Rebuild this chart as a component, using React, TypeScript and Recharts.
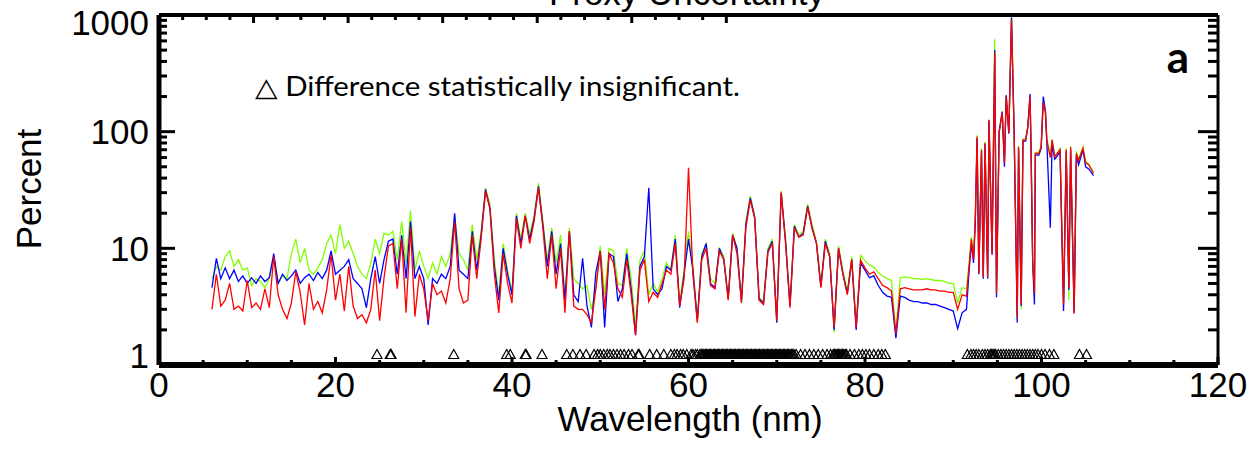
import { ComposedChart, Line, Scatter, XAxis, YAxis } from "recharts";

// plot frame in page pixels
const PLOT = { left: 159, right: 1218, top: 15, bottom: 365 };
const AXIS_FONT = "'Liberation Sans', Arial, sans-serif";

// wavelength grid: 0.5 nm steps up to 91 nm, then the spiky tail read point by point
const GRID_WL = Array.from({ length: 171 }, (_, i) => 6 + i * 0.5);
const FINE_WL = [
  91.5, 91.8, 92.05, 92.3, 92.5, 92.7, 92.9, 93.2, 93.4, 93.6,
  93.9, 94.05, 94.4, 94.7, 94.9, 95.2, 95.55, 95.8, 96.0, 96.3,
  96.6, 96.9, 97.25, 97.4, 97.7, 97.9, 98.2, 98.45, 98.7, 98.8,
  99.0, 99.2, 99.3, 99.7, 99.96, 100.2, 100.45, 100.6, 101.0, 101.2,
  101.5, 101.8, 102.1, 102.5, 102.8, 103.1, 103.3, 103.7, 103.95, 104.2,
  104.7, 105.0, 105.35, 105.9,
];

const RED = [
  3.0, 6.0, 3.2, 3.6, 5.0, 3.0, 3.2, 2.9, 5.3, 3.1,
  3.4, 3.0, 4.5, 3.1, 8.5, 4.0, 3.0, 2.5, 3.4, 6.3,
  4.2, 2.2, 5.0, 3.0, 3.5, 2.8, 4.4, 8.8, 3.6, 6.0,
  2.9, 7.0, 3.2, 2.5, 2.7, 2.3, 3.0, 6.5, 2.4, 5.6,
  10.5, 11, 4.5, 12, 2.8, 15, 2.6, 6.0, 4.5, 2.4,
  5.0, 4.0, 4.3, 3.4, 5.5, 17, 4.5, 3.4, 3.6, 13,
  5.5, 12, 31, 22, 6.0, 2.8, 9, 5, 3.4, 18,
  10, 19, 11, 17, 33, 15, 5.5, 13, 4.5, 10,
  2.8, 14, 3.2, 3.0, 3.0, 2.7, 2.3, 4.5, 9.5, 3.0,
  9, 7.5, 4.5, 3.8, 8, 4.0, 1.8, 6.5, 8, 3.5,
  4.2, 3.8, 5.0, 6.5, 6.0, 11, 3.2, 5.5, 49, 6,
  2.3, 8, 10, 4.8, 4.5, 9.5, 8, 3.6, 13, 9,
  3.4, 15, 26, 18, 3.6, 3.3, 9.2, 11, 2.4, 30,
  11, 3.1, 15, 12.5, 13, 22.6, 15, 11, 4.6, 11,
  8.5, 2.1, 10, 6.0, 4.0, 8, 2.1, 7.9, 6.8, 6.0,
  6.3, 5.5, 4.8, 4.6, 4.3, 1.85, 4.5, 4.6, 4.5, 4.4,
  4.4, 4.4, 4.5, 4.4, 4.4, 4.3, 4.3, 4.2, 4.2, 3.0,
  4.0,
  3.9, 7.1, 12, 8, 18, 91, 6.1, 70, 5.65, 80,
  5.65, 126, 9.0, 480, 4.1, 98, 145, 54, 200, 98,
  920, 98, 2.55, 74, 3.3, 85, 85, 110, 200, 85,
  7.9, 4.1, 65, 65, 74, 178, 145, 85, 60, 85,
  61, 65, 70, 3.3, 70, 4.6, 74, 2.75, 65, 57,
  72, 54, 52, 44,
];

const BLUE = [
  4.6, 8.2, 5.5, 6.8, 5.5, 6.5, 5.2, 5.8, 5.0, 5.6,
  5.0, 5.8, 5.2, 5.6, 9.0, 5.0, 6.0, 5.3, 5.8, 6.5,
  5.0, 5.6, 6.0, 5.3, 6.2, 5.5, 6.5, 9.5, 6.0, 6.5,
  7.0, 8.0, 5.5, 5.0, 4.5, 3.1, 5.5, 8.5, 5.0, 8.0,
  11.5, 12, 6.0, 13, 5.5, 17, 5.5, 7.0, 5.5, 2.2,
  5.5, 5.0, 6.0, 5.5, 7.0, 20, 6.5, 6.0, 5.5, 14,
  6.5, 13, 32, 22, 7.0, 3.6, 10, 6.0, 4.0, 19,
  11, 19, 12, 18, 34, 16, 7.0, 14, 6.0, 11,
  3.6, 14, 4.0, 3.5, 8.2, 3.2, 2.1, 6.2, 9.5, 2.1,
  9, 8.5, 3.5, 4.5, 9, 4.5, 1.8, 7, 8.5, 33,
  4.5, 4.0, 4.5, 7, 6.5, 12, 3.1, 6, 12, 6.5,
  2.4, 8.5, 11, 5, 4.6, 10, 8, 3.7, 13, 10,
  3.5, 16, 27, 18.5, 3.7, 3.4, 9.5, 11.5, 2.3, 30,
  11.5, 3.2, 15.5, 12.5, 13.5, 23, 15, 11, 4.7, 11.5,
  8.5, 2.0, 10, 6.0, 4.1, 8, 2.0, 7.5, 6.5, 5.6,
  5.8, 4.8, 4.2, 3.9, 3.8, 1.7, 3.9, 3.8, 3.6, 3.5,
  3.5, 3.4, 3.4, 3.3, 3.3, 3.2, 3.1, 3.0, 2.9, 2.05,
  2.8,
  3.0, 6.5, 11, 7.5, 17, 88, 6.0, 68, 5.5, 78,
  5.5, 124, 8.8, 500, 3.8, 100, 148, 50, 205, 96,
  950, 96, 2.3, 72, 3.2, 83, 83, 108, 210, 83,
  7.5, 3.3, 63, 63, 72, 200, 150, 83, 15, 80,
  58, 62, 68, 2.9, 68, 4.4, 70, 2.8, 62, 52,
  70, 50, 48, 42,
];

const GREEN = [
  5.5, 7.0, 6.5, 8.5, 9.5, 7.0, 8.0, 6.5, 6.8, 4.8,
  5.5, 5.2, 4.6, 5.5, 8.5, 5.0, 5.8, 5.5, 9.0, 12,
  7.5, 10, 6.5, 6.0, 6.8, 8.0, 11, 13, 9.0, 16,
  10, 11.5, 9.0, 7.0, 6.0, 5.5, 7.5, 12, 9.0, 13.5,
  13, 14, 8, 17, 7.5, 21, 6.5, 9.5, 7.0, 5.5,
  7.5, 6.0, 8.5, 7.0, 9.0, 19, 9.0, 8.0, 6.5, 16,
  8.0, 14, 33, 24, 8.0, 4.0, 11, 6.5, 4.2, 20,
  12, 20, 13, 19, 36, 17, 8.0, 15, 7.5, 13,
  3.8, 15, 5.5, 5.0, 4.5, 4.8, 3.0, 4.5, 10.5, 4.0,
  10, 9.5, 5.0, 4.8, 10, 5.5, 2.2, 8, 9.5, 4.0,
  5.0, 4.2, 5.5, 7.5, 6.5, 13, 3.5, 6.5, 14, 7,
  2.5, 9, 11, 5.5, 5, 10, 8.5, 3.8, 13.5, 10,
  3.6, 17, 28, 19, 3.8, 3.5, 10, 12, 2.5, 31,
  12, 3.3, 16, 13, 14, 24, 16, 11.5, 5.0, 12,
  9, 1.9, 10.5, 6.5, 4.3, 8.5, 2.2, 8.7, 7.8, 7.2,
  6.9, 6.2, 5.8, 5.5, 5.3, 1.9, 5.6, 5.7, 5.6, 5.5,
  5.5, 5.4, 5.5, 5.4, 5.3, 5.3, 5.2, 5.0, 5.0, 3.4,
  4.6,
  4.5, 7.5, 12.5, 8.5, 19, 93, 6.3, 72, 5.8, 82,
  5.8, 128, 9.3, 620, 4.2, 100, 150, 56, 205, 100,
  1000, 100, 2.5, 76, 3.0, 87, 86, 112, 202, 86,
  8, 4.0, 66, 67, 75, 180, 146, 87, 62, 86,
  62, 66, 72, 3.4, 72, 3.6, 75, 2.9, 68, 58,
  74, 56, 53, 45,
];

// wavelengths where the difference is statistically insignificant
const INSIGNIFICANT_WL = [
  24.7, 26.2, 26.3, 33.4, 39.4, 39.8, 41.5, 41.6, 43.4, 46.2, 46.9, 47.7, 48.4,
  49.3, 49.7, 50.0, 50.4, 50.8, 51.1, 51.5, 51.9, 52.3, 52.7, 53.2, 53.6, 54.3, 54.4,
  55.6, 56.4, 57.2, 58.0, 58.4, 58.7, 59.1, 59.4, 59.8, 60.3, 60.5, 60.8, 61.0, 61.3,
  61.45, 61.6, 61.75, 61.9, 62.05, 62.2, 62.35, 62.5, 62.65, 62.8, 62.95, 63.1, 63.25,
  63.4, 63.55, 63.7, 63.85, 64.0, 64.15, 64.3, 64.45, 64.6, 64.75, 64.9, 65.05, 65.2,
  65.35, 65.5, 65.65, 65.8, 65.95, 66.1, 66.25, 66.4, 66.55, 66.7, 66.85, 67.0, 67.15,
  67.3, 67.45, 67.6, 67.75, 67.9, 68.05, 68.2, 68.35, 68.5, 68.65, 68.8, 68.95, 69.1,
  69.25, 69.4, 69.55, 69.7, 69.85, 70.0, 70.15, 70.3, 70.45, 70.6, 70.75, 70.9, 71.05,
  71.2, 71.35, 71.5, 71.65, 71.8, 71.95, 72.2, 72.7, 73.2, 73.7, 74.2, 74.7, 75.2,
  75.7, 76.1, 76.4, 76.55, 76.7, 76.85, 77.0, 77.15, 77.3, 77.45, 77.6, 77.75, 77.9,
  78.3, 78.8, 79.3, 79.7, 80.1, 80.5, 81.0, 81.5, 81.9, 82.3, 91.6, 92.0, 92.3, 92.6,
  92.9, 93.3, 93.6, 93.9, 94.2, 94.35, 94.5, 94.65, 94.8, 95.1, 95.4, 95.7, 96.0,
  96.3, 96.6, 96.9, 97.2, 97.5, 97.8, 98.1, 98.4, 98.7, 99.0, 99.3, 99.6, 100.0,
  100.4, 100.9, 101.4, 104.3, 105.1,
];
const MARKER_LEVEL = 1.23;

const X_TICKS = [0, 5, 10, 15, 20, 25, 30, 35, 40, 45, 50, 55, 60, 65, 70, 75, 80, 85, 90, 95, 100, 105, 110, 115, 120];
const X_LABELED = [0, 20, 40, 60, 80, 100, 120];
const Y_TICKS = [1, 2, 3, 4, 5, 6, 7, 8, 9, 10, 20, 30, 40, 50, 60, 70, 80, 90, 100, 200, 300, 400, 500, 600, 700, 800, 900, 1000];
const Y_LABELED = [1, 10, 100, 1000];

const WL = [...GRID_WL, ...FINE_WL];
const data = WL.map((wl, i) => ({ wl, red: RED[i], blue: BLUE[i], green: GREEN[i] }));
const markers = INSIGNIFICANT_WL.map((wl) => ({ wl, tri: MARKER_LEVEL }));

const XTick = (p: any) => {
  const v = p.payload.value;
  const major = X_LABELED.includes(v);
  return (
    <g>
      <line x1={p.x} x2={p.x} y1={PLOT.bottom} y2={PLOT.bottom - (major ? 8 : 5)} stroke="#000" strokeWidth={3} />
      {major && (
        <text x={p.x} y={397} textAnchor="middle" fontSize={35} fontFamily={AXIS_FONT} fill="#000">{v}</text>
      )}
    </g>
  );
};

const XTopTick = (p: any) => {
  const major = X_LABELED.includes(p.payload.value);
  return <line x1={p.x} x2={p.x} y1={PLOT.top} y2={PLOT.top + (major ? 8 : 5)} stroke="#000" strokeWidth={3} />;
};

const YTick = (p: any) => {
  const v = p.payload.value;
  const major = Y_LABELED.includes(v);
  const shift = v === 1 ? -10 : v === 1000 ? 7 : 0;
  return (
    <g>
      <line x1={PLOT.left} x2={PLOT.left + (major ? 16 : 8)} y1={p.y} y2={p.y} stroke="#000" strokeWidth={3} />
      {major && (
        <text x={149} y={p.y + 12.5 + shift} textAnchor="end" fontSize={35} fontFamily={AXIS_FONT} fill="#000">{v}</text>
      )}
    </g>
  );
};

const YRightTick = (p: any) => {
  const major = Y_LABELED.includes(p.payload.value);
  return <line x1={PLOT.right} x2={PLOT.right - (major ? 20 : 10)} y1={p.y} y2={p.y} stroke="#000" strokeWidth={3} />;
};

const Triangle = (p: any) => {
  const { cx, cy } = p;
  return <polygon points={`${cx},${cy - 5} ${cx - 5},${cy + 4} ${cx + 5},${cy + 4}`} fill="none" stroke="#000" strokeWidth={1.2} />;
};

export default function App() {
  return (
    <div style={{ position: "absolute", left: 0, top: 0, width: 1252, height: 458, background: "#fff" }}>
      <ComposedChart
        width={1252}
        height={458}
        data={data}
        margin={{ top: PLOT.top - 1, right: 1252 - PLOT.right - 1, bottom: 458 - PLOT.bottom - 1, left: PLOT.left - 1 }}
      >
        <XAxis dataKey="wl" type="number" domain={[0, 120]} ticks={X_TICKS} interval={0} height={1}
          allowDataOverflow tickLine={false} axisLine={{ stroke: "#000", strokeWidth: 6 }} tick={XTick} />
        <XAxis xAxisId="top" orientation="top" type="number" domain={[0, 120]} ticks={X_TICKS} interval={0} height={1}
          allowDataOverflow tickLine={false} axisLine={{ stroke: "#000", strokeWidth: 4 }} tick={XTopTick} />
        <YAxis type="number" scale="log" domain={[1, 1000]} ticks={Y_TICKS} interval={0} width={1}
          allowDataOverflow tickLine={false} axisLine={{ stroke: "#000", strokeWidth: 5 }} tick={YTick} />
        <YAxis yAxisId="right" orientation="right" type="number" scale="log" domain={[1, 1000]} ticks={Y_TICKS} interval={0} width={1}
          allowDataOverflow tickLine={false} axisLine={{ stroke: "#000", strokeWidth: 3 }} tick={YRightTick} />
        <Line dataKey="green" stroke="#7fff00" strokeWidth={1.3} dot={false} isAnimationActive={false} type="linear" />
        <Line dataKey="blue" stroke="#0000ff" strokeWidth={1.3} dot={false} isAnimationActive={false} type="linear" />
        <Line dataKey="red" stroke="#ff0000" strokeWidth={1.3} dot={false} isAnimationActive={false} type="linear" />
        <Scatter data={markers} dataKey="tri" shape={Triangle} isAnimationActive={false} />
        <text x={687} y={5} textAnchor="middle" fontSize={35} fontFamily={AXIS_FONT} fill="#000">Proxy Uncertainty</text>
        <text x={690} y={431} textAnchor="middle" fontSize={35} fontFamily={AXIS_FONT} fill="#000">Wavelength (nm)</text>
        <text x={41} y={189} textAnchor="middle" fontSize={35} fontFamily={AXIS_FONT} fill="#000" transform="rotate(-90, 41, 189)">Percent</text>
        <text x={255} y={96} fontSize={26} fontFamily="Lato, 'Open Sans', sans-serif" fill="#000" textLength={485} lengthAdjust="spacingAndGlyphs">
          △ Difference statistically insignificant.
        </text>
        <text x={1178} y={73} textAnchor="middle" fontSize={44} fontWeight="bold" fontFamily="Lato, 'Open Sans', sans-serif" fill="#000">a</text>
      </ComposedChart>
    </div>
  );
}
